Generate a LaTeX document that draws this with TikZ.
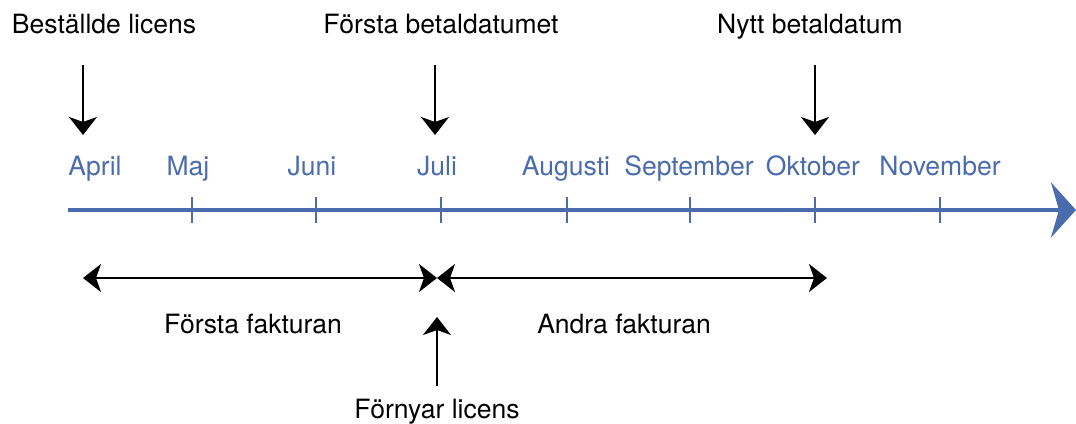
\documentclass[tikz,border=0pt]{standalone}
\usepackage{fontspec}
\setmainfont{TeX Gyre Heros}
\usetikzlibrary{arrows.meta}
\definecolor{timeblue}{HTML}{4A6BAE}
\begin{document}
\begin{tikzpicture}[x=0.02cm, y=-0.02cm,
  >={Stealth[length=0.36cm,width=0.56cm,inset=0.1cm]},
  every node/.style={font=\fontsize{15.1}{18}\selectfont, inner sep=0pt, anchor=base},
  month/.style={text=timeblue},
  pointer/.style={->, line width=1.1pt}]
\useasboundingbox (0,0) rectangle (1076,423);
% timeline
\coordinate (t0) at (68,210);
\coordinate (t1) at (1076,210);
\draw[timeblue, line width=2.4pt, -{Stealth[length=0.5cm,width=1.1cm,inset=0.16cm]}] (t0) -- (t1);
\foreach \x in {192,316,441,567,690,815,940}
  \draw[timeblue, line width=1.6pt] (\x,197) -- (\x,223);
\foreach \x/\m in {95/April,188/Maj,312/Juni,437/Juli,566/Augusti,689/September,813/Oktober,940/November}
  \node[month] (m-\m) at (\x,175) {\m};
% dates above
\node (ordered) at (104,33) {Beställde licens};
\node (firstpay) at (441,33) {Första betaldatumet};
\node (newpay) at (810,33) {Nytt betaldatum};
\coordinate (a1) at (83,65);   \coordinate (b1) at (83,135);
\coordinate (a2) at (435,65);  \coordinate (b2) at (435,135);
\coordinate (a3) at (815,65);  \coordinate (b3) at (815,135);
\draw[pointer] (a1) -- (b1);
\draw[pointer] (a2) -- (b2);
\draw[pointer] (a3) -- (b3);
% invoice periods
\coordinate (f0) at (83,278);
\coordinate (f1) at (437,278);
\coordinate (f2) at (827,278);
\draw[<->, line width=1.1pt] (f0) -- (f1);
\draw[<->, line width=1.1pt] (f1) -- (f2);
\node (inv1) at (253,333) {Första fakturan};
\node (inv2) at (624,333) {Andra fakturan};
% renewal
\node (renew) at (437,418) {Förnyar licens};
\coordinate (r0) at (437,386);
\coordinate (r1) at (437,317);
\draw[pointer] (r0) -- (r1);
\end{tikzpicture}
\end{document}
